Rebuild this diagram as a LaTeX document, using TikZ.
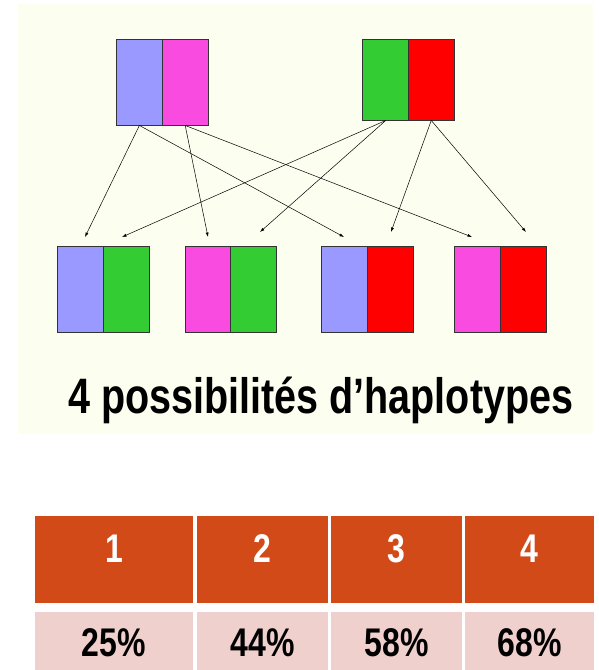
\documentclass[tikz,border=0pt]{standalone}
\usepackage{fontspec}
\setmainfont{Liberation Sans}
\newfontfamily\narrowfont[FakeStretch=0.8]{Liberation Sans}
\usetikzlibrary{arrows.meta}
\definecolor{panelbg}{HTML}{FCFEF0}
\definecolor{cblue}{HTML}{9999FF}
\definecolor{cmag}{HTML}{FA4BE1}
\definecolor{cgreen}{HTML}{33CC33}
\definecolor{cred}{HTML}{FF0000}
\definecolor{hdr}{HTML}{D24A18}
\definecolor{rowpink}{HTML}{EFD0CD}
\tikzset{
  half/.style={draw=black!80, line width=0.9pt, inner sep=0pt, minimum width=46pt},
  tall/.style={minimum height=86pt},
  short/.style={minimum height=81pt},
  link/.style={line width=0.5pt, -{Latex[length=4.5pt,width=3pt]}},
  hnum/.style={text=white, font=\narrowfont\bfseries\fontsize{40}{40}\selectfont, anchor=base, inner sep=0pt},
  pnum/.style={text=black, font=\narrowfont\bfseries\fontsize{40}{40}\selectfont, anchor=base, inner sep=0pt}
}
\begin{document}
\begin{tikzpicture}[x=1pt,y=-1pt]
\useasboundingbox (0,0) rectangle (598,670);
\fill[white] (0,0) rectangle (598,670);
\fill[panelbg] (18,4) rectangle (593,434);
% parents
\node[half,tall,fill=cblue] (pa) at (139.4,82) {};
\node[half,tall,fill=cmag] (pb) at (185.2,82) {};
\node[half,short,fill=cgreen] (pc) at (385.75,79.5) {};
\node[half,short,fill=cred] (pd) at (431.25,79.5) {};
% children
\node[half,tall,fill=cblue] (c1a) at (80,289.7) {};
\node[half,tall,fill=cgreen] (c1b) at (126,289.7) {};
\node[half,tall,fill=cmag] (c2a) at (208,289.7) {};
\node[half,tall,fill=cgreen] (c2b) at (253.5,289.7) {};
\node[half,tall,fill=cblue] (c3a) at (344.25,289.7) {};
\node[half,tall,fill=cred] (c3b) at (390.25,289.7) {};
\node[half,tall,fill=cmag] (c4a) at (477,289.7) {};
\node[half,tall,fill=cred] (c4b) at (523,289.7) {};
% arrow ends
\coordinate (e1) at (85,237);
\coordinate (e2) at (122,237);
\coordinate (e3) at (208,237);
\coordinate (e4) at (260,232);
\coordinate (e5) at (344,237);
\coordinate (e6) at (391,232);
\coordinate (e7) at (472,237);
\coordinate (e8) at (526,232);
\draw[link] (pa.south) -- (e1);
\draw[link] (pa.south) -- (e5);
\draw[link] (pb.south) -- (e3);
\draw[link] (pb.south) -- (e7);
\draw[link] (pc.south) -- (e2);
\draw[link] (pc.south) -- (e4);
\draw[link] (pd.south) -- (e6);
\draw[link] (pd.south) -- (e8);
% title
\node[anchor=base west, inner sep=0pt] (title) at (68,413)
  {\resizebox{505pt}{36.5pt}{\bfseries 4 possibilités d’haplotypes}};
% table
\fill[hdr] (35,516) rectangle (193,603);
\fill[hdr] (197,516) rectangle (328,603);
\fill[hdr] (331,516) rectangle (462,603);
\fill[hdr] (465,516) rectangle (594,603);
\fill[rowpink] (35,612) rectangle (193,670);
\fill[rowpink] (197,612) rectangle (328,670);
\fill[rowpink] (331,612) rectangle (462,670);
\fill[rowpink] (465,612) rectangle (594,670);
\node[hnum] (h1) at (114,562) {1};
\node[hnum] (h2) at (262.5,562) {2};
\node[hnum] (h3) at (396.5,562) {3};
\node[hnum] (h4) at (529.5,562) {4};
\node[pnum] (v1) at (114,656) {25\%};
\node[pnum] (v2) at (262.5,656) {44\%};
\node[pnum] (v3) at (396.5,656) {58\%};
\node[pnum] (v4) at (529.5,656) {68\%};
\end{tikzpicture}
\end{document}
